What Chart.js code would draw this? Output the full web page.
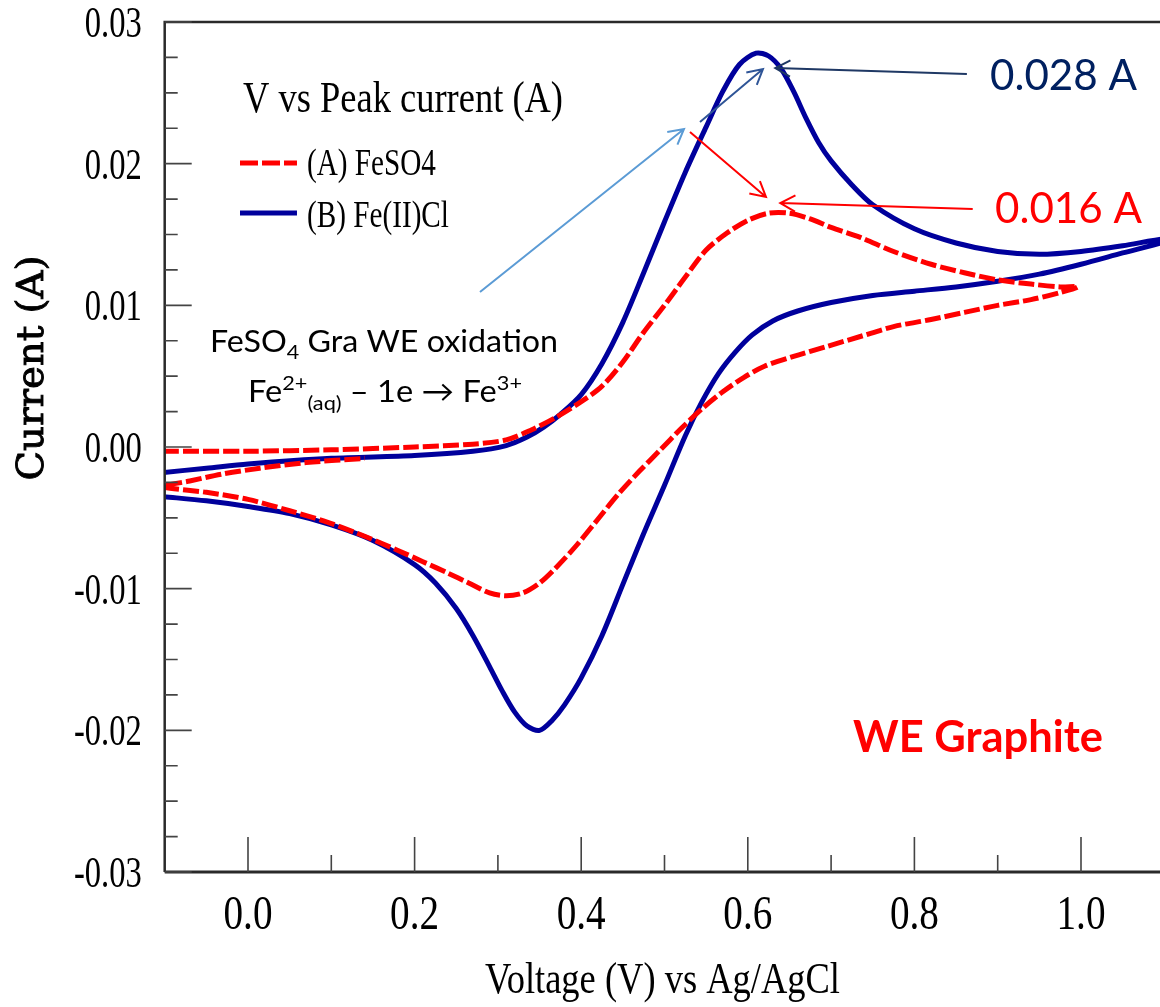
<!DOCTYPE html>
<html>
<head>
<meta charset="utf-8">
<title>V vs Peak current</title>
<script src="https://cdn.jsdelivr.net/npm/chart.js@4.4.1/dist/chart.umd.min.js"></script>
<style>
    html, body { margin: 0; padding: 0; background: #fff; overflow: hidden; }
    #wrap { width: 1166px; height: 1007px; position: relative; }
</style>
</head>
<body>
<div id="wrap"><canvas id="cv-graph"></canvas></div>
<script>
// (A) FeSO4 - forward scan, return scan, start of next cycle
const feso4Volt = [-0.102, 0.0, 0.1, 0.2, 0.27, 0.31, 0.34, 0.37, 0.40, 0.425, 0.45, 0.475, 0.50, 0.525, 0.55, 0.575, 0.60, 0.625, 0.65, 0.675, 0.70, 0.735, 0.775, 0.82, 0.86, 0.90, 0.94, 0.975, 0.996,
    0.975, 0.94, 0.90, 0.86, 0.82, 0.775, 0.735, 0.695, 0.655, 0.62, 0.595, 0.57, 0.545, 0.52, 0.495, 0.47, 0.445, 0.42, 0.395, 0.37, 0.35, 0.33, 0.31, 0.29, 0.265, 0.24, 0.21, 0.18, 0.14, 0.095, 0.05, 0.0, -0.05, -0.102,
    -0.07, -0.03, 0.014, 0.07, 0.14];
const feso4Curr = [-0.0003, -0.0003, -0.0002, 0.0000, 0.0002, 0.0005, 0.0012, 0.0021, 0.0032, 0.0043, 0.0060, 0.0081, 0.0100, 0.0120, 0.0139, 0.0151, 0.0160, 0.0165, 0.0165, 0.0161, 0.0155, 0.0148, 0.0138, 0.0129, 0.0123, 0.0118, 0.0115, 0.0113, 0.0113,
    0.0109, 0.0104, 0.0100, 0.0095, 0.0090, 0.0085, 0.0078, 0.0071, 0.0064, 0.0057, 0.0049, 0.0039, 0.0027, 0.0013, -0.0002, -0.0017, -0.0033, -0.0051, -0.0069, -0.0085, -0.0096, -0.0103, -0.0105, -0.0103, -0.0096, -0.0089, -0.0081, -0.0073, -0.0063, -0.0053, -0.0045, -0.0037, -0.0032, -0.0028,
    -0.0024, -0.0019, -0.0015, -0.0011, -0.0008];

// (B) Fe(II)Cl
const feclVolt = [-0.102, -0.05, 0.0, 0.1, 0.2, 0.27, 0.31, 0.335, 0.355, 0.375, 0.40, 0.425, 0.45, 0.475, 0.50, 0.525, 0.55, 0.57, 0.59, 0.61, 0.625, 0.64, 0.655, 0.67, 0.685, 0.70, 0.725, 0.75, 0.80, 0.85, 0.90, 0.95, 1.0, 1.05, 1.101,
    1.101, 1.05, 1.0, 0.95, 0.90, 0.85, 0.80, 0.75, 0.70, 0.66, 0.63, 0.605, 0.585, 0.565, 0.545, 0.525, 0.50, 0.475, 0.45, 0.425, 0.40, 0.38, 0.365, 0.35, 0.335, 0.32, 0.305, 0.29, 0.27, 0.25, 0.225, 0.20, 0.15, 0.10, 0.05, 0.0, -0.05, -0.102];
const feclCurr = [-0.0018, -0.0015, -0.0012, -0.0008, -0.0006, -0.0003, 0.0001, 0.0007, 0.0014, 0.0023, 0.0037, 0.0059, 0.0088, 0.0123, 0.0159, 0.0194, 0.0226, 0.0251, 0.0270, 0.0278, 0.0276, 0.0267, 0.0251, 0.0232, 0.0215, 0.0202, 0.0185, 0.0171, 0.0154, 0.0144, 0.0138, 0.0136, 0.0138, 0.0142, 0.0147,
    0.0145, 0.0137, 0.0129, 0.0122, 0.0117, 0.0113, 0.0110, 0.0107, 0.0102, 0.0096, 0.0089, 0.0079, 0.0067, 0.0052, 0.0032, 0.0008, -0.0027, -0.0061, -0.0097, -0.0133, -0.0163, -0.0182, -0.0193, -0.0200, -0.0197, -0.0187, -0.0172, -0.0155, -0.0133, -0.0114, -0.0096, -0.0083, -0.0066, -0.0055, -0.0047, -0.0042, -0.0038, -0.0035];

const seriesNames = ["(A) FeSO4", "(B) Fe(II)Cl"];

const xTickValues = [0, 0.2, 0.4, 0.6, 0.8, 1.0];
const xTickLabels = ["0.0", "0.2", "0.4", "0.6", "0.8", "1.0"];
const xMinorValues = [0.1, 0.3, 0.5, 0.7, 0.9];
const yTickValues = [-0.03, -0.02, -0.01, 0, 0.01, 0.02, 0.03];
const yTickLabels = ["-0.03", "-0.02", "-0.01", "0.00", "0.01", "0.02", "0.03"];
const yMinorValues = [-0.0275, -0.025, -0.0225, -0.0175, -0.015, -0.0125, -0.0075, -0.005, -0.0025,
    0.0025, 0.005, 0.0075, 0.0125, 0.015, 0.0175, 0.0225, 0.025, 0.0275];

// annotation arrows, in data units [V, A]
const arrows = [
    { from: [0.863, 0.02633], to: [0.633, 0.02675], color: "#1F3864" },
    { from: [0.870, 0.0168], to: [0.639, 0.01722], color: "#FF0000" },
    { from: [0.2785, 0.01094], to: [0.5234, 0.02245], color: "#5B9BD5" },
    { from: [0.5426, 0.02294], to: [0.6182, 0.02668], color: "#2F5597" },
    { from: [0.5306, 0.02223], to: [0.6218, 0.01765], color: "#FF0000" }
];

const RED = "#FF0000";
const BLUE = "#00009C";
const SERIF = "'Liberation Serif', 'Times New Roman', serif";
const SANS = "Lato, 'Open Sans', sans-serif";

const points = (xs, ys) => xs.map((v, i) => ({ x: v, y: ys[i] }));

// draws text made of parts, squeezed horizontally (sx) or fitted to a width
function drawText(ctx, parts, x, y, opt) {
    ctx.save();
    let w = 0;
    parts.forEach(p => { ctx.font = p.f; p.w = ctx.measureText(p.t).width; w += p.w; });
    const sx = opt.width ? opt.width / w : (opt.sx || 1);
    ctx.translate(x, y);
    if (opt.rotate) ctx.rotate(opt.rotate);
    ctx.scale(sx, 1);
    let cx = 0;
    if (opt.align === "center") cx = -w / 2;
    else if (opt.align === "right") cx = -w;
    ctx.fillStyle = opt.color || "#000";
    ctx.strokeStyle = opt.color || "#000";
    ctx.lineWidth = opt.stroke || 0;
    ctx.textBaseline = "alphabetic";
    ctx.textAlign = "left";
    parts.forEach(p => {
        ctx.font = p.f;
        ctx.fillText(p.t, cx, p.dy || 0);
        if (opt.stroke) ctx.strokeText(p.t, cx, p.dy || 0);
        cx += p.w;
    });
    ctx.restore();
}

function drawArrow(ctx, x1, y1, x2, y2, color) {
    const ang = Math.atan2(y2 - y1, x2 - x1);
    const len = 17, spread = 0.5;
    ctx.save();
    ctx.strokeStyle = color;
    ctx.lineWidth = 2;
    ctx.beginPath();
    ctx.moveTo(x1, y1);
    ctx.lineTo(x2, y2);
    ctx.moveTo(x2 - len * Math.cos(ang - spread), y2 - len * Math.sin(ang - spread));
    ctx.lineTo(x2, y2);
    ctx.lineTo(x2 - len * Math.cos(ang + spread), y2 - len * Math.sin(ang + spread));
    ctx.stroke();
    ctx.restore();
}

const overlay = {
    id: "overlay",
    afterDraw(chart) {
        const { ctx, chartArea: a, scales } = chart;
        const sx = scales.x, sy = scales.y;
        const P = (v, i) => [sx.getPixelForValue(v), sy.getPixelForValue(i)];

        // frame
        ctx.save();
        ctx.strokeStyle = "#2a2a2a";
        ctx.lineWidth = 2.5;
        ctx.beginPath();
        ctx.moveTo(a.right, a.top);
        ctx.lineTo(a.left, a.top);
        ctx.lineTo(a.left, a.bottom);
        ctx.stroke();
        ctx.lineWidth = 3;
        ctx.beginPath();
        ctx.moveTo(a.left, a.bottom);
        ctx.lineTo(a.right, a.bottom);
        ctx.stroke();

        // inward ticks
        ctx.strokeStyle = "#444";
        ctx.lineWidth = 1.6;
        ctx.beginPath();
        yTickValues.forEach(v => { const p = sy.getPixelForValue(v); ctx.moveTo(a.left, p); ctx.lineTo(a.left + 27, p); });
        yMinorValues.forEach(v => { const p = sy.getPixelForValue(v); ctx.moveTo(a.left, p); ctx.lineTo(a.left + 13, p); });
        xTickValues.forEach(v => { const p = sx.getPixelForValue(v); ctx.moveTo(p, a.bottom); ctx.lineTo(p, a.bottom - 35); });
        xMinorValues.forEach(v => { const p = sx.getPixelForValue(v); ctx.moveTo(p, a.bottom); ctx.lineTo(p, a.bottom - 17); });
        ctx.stroke();
        ctx.restore();

        // tick labels
        yTickValues.forEach((v, i) => {
            drawText(ctx, [{ t: yTickLabels[i], f: "44px " + SERIF }], a.left - 23, sy.getPixelForValue(v) + 15, { align: "right", sx: 0.74 });
        });
        xTickValues.forEach((v, i) => {
            drawText(ctx, [{ t: xTickLabels[i], f: "49px " + SERIF }], sx.getPixelForValue(v), a.bottom + 57, { align: "center", sx: 0.8 });
        });

        // axis titles
        drawText(ctx, [{ t: "Voltage (V) vs Ag/AgCl", f: "44px " + SERIF }], (a.left + a.right) / 2 - 2, a.bottom + 121, { align: "center", width: 355 });
        drawText(ctx, [{ t: "Current (A)", f: "38px 'DejaVu Serif', serif" }], 43, 368, { align: "center", width: 225, rotate: -Math.PI / 2, stroke: 0.9 });

        // legend
        let p = P(-0.006, 0.02365);
        drawText(ctx, [{ t: "V vs Peak current (A)", f: "44px " + SERIF }], p[0], p[1], { width: 320 });
        const legendRows = [
            { y: 0.02005, base: 0.0192, color: RED, dash: [18, 4], w: 129 },
            { y: 0.01652, base: 0.01553, color: BLUE, dash: [], w: 142 }
        ];
        legendRows.forEach((r, i) => {
            const l = P(-0.0096, r.y), rr = P(0.0588, r.y);
            ctx.save();
            ctx.strokeStyle = r.color;
            ctx.lineWidth = 5;
            ctx.setLineDash(r.dash);
            ctx.beginPath();
            ctx.moveTo(l[0], l[1]);
            ctx.lineTo(rr[0], rr[1]);
            ctx.stroke();
            ctx.restore();
            const t = P(0.0708, r.base);
            drawText(ctx, [{ t: seriesNames[i], f: "38px " + SERIF }], t[0], t[1], { width: r.w });
        });

        // annotations
        p = P(-0.0456, 0.00671);
        drawText(ctx, [
            { t: "FeSO", f: "30px " + SANS },
            { t: "4", f: "20px " + SANS, dy: 7 },
            { t: " Gra WE oxidation", f: "30px " + SANS }
        ], p[0], p[1], { width: 348 });
        p = P(0.0, 0.00318);
        drawText(ctx, [
            { t: "Fe", f: "30px " + SANS },
            { t: "2+", f: "20px " + SANS, dy: -12 },
            { t: "(aq)", f: "20px " + SANS, dy: 8 },
            { t: " \u2013 1e \u2192 Fe", f: "30px " + SANS },
            { t: "3+", f: "20px " + SANS, dy: -12 }
        ], p[0], p[1], { width: 274 });
        p = P(0.8908, 0.0252);
        drawText(ctx, [{ t: "0.028 A", f: "42px " + SANS }], p[0], p[1], { width: 147, color: "#002060" });
        p = P(0.8968, 0.01581);
        drawText(ctx, [{ t: "0.016 A", f: "42px " + SANS }], p[0], p[1], { width: 147, color: RED });
        p = P(0.7263, -0.02153);
        drawText(ctx, [{ t: "WE Graphite", f: "bold 44px " + SANS }], p[0], p[1], { width: 250, color: RED });

        arrows.forEach(ar => {
            const f = P(ar.from[0], ar.from[1]), t = P(ar.to[0], ar.to[1]);
            drawArrow(ctx, f[0], f[1], t[0], t[1], ar.color);
        });
    }
};

const graph = document.getElementById("cv-graph").getContext("2d");

new Chart(graph, {
    type: "scatter",
    data: {
        datasets: [{
            label: seriesNames[0],
            data: points(feso4Volt, feso4Curr),
            showLine: true,
            borderColor: RED,
            borderWidth: 5,
            borderDash: [16, 4],
            pointRadius: 0,
            tension: 0.3
        }, {
            label: seriesNames[1],
            data: points(feclVolt, feclCurr),
            showLine: true,
            borderColor: BLUE,
            borderWidth: 5,
            pointRadius: 0,
            tension: 0.3
        }]
    },
    options: {
        responsive: true,
        maintainAspectRatio: false,
        animation: false,
        layout: { padding: { left: 164.7, right: 1.7, top: 22, bottom: 135 } },
        plugins: {
            legend: { display: false },
            tooltip: { enabled: false }
        },
        scales: {
            x: { type: "linear", min: -0.1, max: 1.1, display: false },
            y: { type: "linear", min: -0.03, max: 0.03, display: false }
        }
    },
    plugins: [overlay]
});
</script>
</body>
</html>
